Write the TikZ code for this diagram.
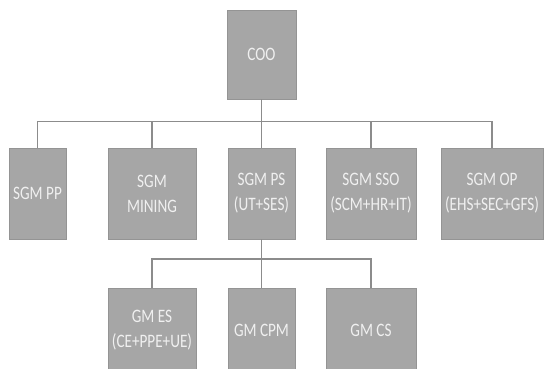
\documentclass[tikz,border=0pt]{standalone}
\usepackage{fontspec}
\setmainfont{Carlito}[FakeStretch=0.8]
\usetikzlibrary{positioning}
\tikzset{
  cargo/.style={rectangle,draw=black!42,fill=black!35,text=white!94!black,align=center,inner sep=1pt,font=\fontsize{19}{25}\selectfont},
  cargoA/.style={cargo,minimum height=91pt},
  cargoB/.style={cargo,minimum height=84pt},
  liga/.style={draw=black!45,line width=1.3pt},
}

\begin{document}
\begin{tikzpicture}[x=1pt,y=-1pt]
\useasboundingbox (0,0) rectangle (544,368);
% topo
\node[cargo,minimum width=69pt,minimum height=89pt] (coo) at (261.5,54.5) {COO};
% segundo nivel
\node[cargoA,minimum width=57pt] (pp) at (37.5,193.5) {SGM PP};
\node[cargoA,minimum width=88pt] (mining) at (152,193.5) {SGM\\MINING};
\node[cargoA,minimum width=67pt] (ps) at (261.5,193.5) {SGM PS\\(UT+SES)};
\node[cargoA,minimum width=90pt] (sso) at (371,193.5) {SGM SSO\\(SCM+HR+IT)};
\node[cargoA,minimum width=102pt] (op) at (492,193.5) {SGM OP\\(EHS+SEC+GFS)};
% terceiro nivel
\node[cargoB,minimum width=88pt] (es) at (152,330) {GM ES\\(CE+PPE+UE)};
\node[cargoB,minimum width=67pt] (cpm) at (261.5,330) {GM CPM};
\node[cargoB,minimum width=90pt] (cs) at (371,330) {GM CS};
% ligacoes
\coordinate (bus1) at (261.5,121.7);
\coordinate (bus2) at (261.5,259);
\draw[liga] (coo.south) -- (bus1);
\draw[liga] (bus1) -| (pp.north);
\draw[liga] (bus1) -| (mining.north);
\draw[liga] (bus1) -- (ps.north);
\draw[liga] (bus1) -| (sso.north);
\draw[liga] (bus1) -| (op.north);
\draw[liga] (ps.south) -- (bus2);
\draw[liga] (bus2) -| (es.north);
\draw[liga] (bus2) -- (cpm.north);
\draw[liga] (bus2) -| (cs.north);
\end{tikzpicture}
\end{document}
